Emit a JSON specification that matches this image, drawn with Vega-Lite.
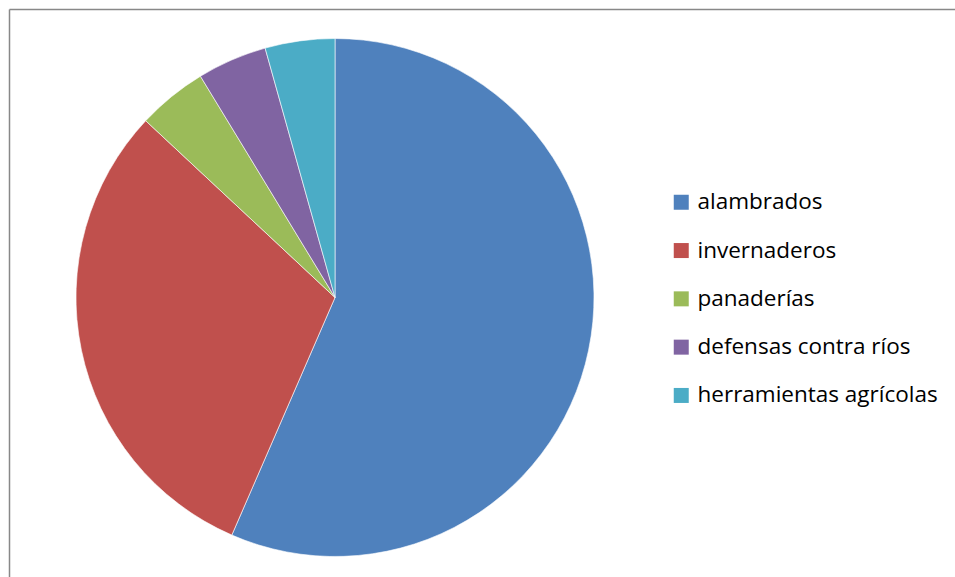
{
  "$schema": "https://vega.github.io/schema/vega-lite/v6.json",
  "autosize": {"type": "none"},
  "width": 652,
  "height": 577,
  "padding": {"left": 9, "top": 9, "right": 294, "bottom": 0},
  "background": "white",
  "config": {"view": {"stroke": null}, "font": "Open Sans"},
  "data": {
    "values": [
      {"categoria": "alambrados", "cantidad": 13, "orden": 1},
      {"categoria": "invernaderos", "cantidad": 7, "orden": 2},
      {"categoria": "panaderías", "cantidad": 1, "orden": 3},
      {"categoria": "defensas contra ríos", "cantidad": 1, "orden": 4},
      {"categoria": "herramientas agrícolas", "cantidad": 1, "orden": 5}
    ]
  },
  "layer": [
    {
      "mark": {"type": "arc", "radius": 259, "stroke": "white", "strokeWidth": 0.6},
      "encoding": {
        "theta": {"field": "cantidad", "type": "quantitative", "stack": true},
        "order": {"field": "orden", "type": "quantitative"},
        "color": {
          "field": "categoria",
          "type": "nominal",
          "scale": {
            "domain": ["alambrados", "invernaderos", "panaderías", "defensas contra ríos", "herramientas agrícolas"],
            "range": ["#4F81BD", "#C0504D", "#9BBB59", "#8064A2", "#4BACC6"]
          },
          "legend": {
            "title": null,
            "orient": "none",
            "legendX": 661,
            "legendY": 182,
            "padding": 0,
            "symbolType": "square",
            "symbolSize": 225,
            "symbolStrokeWidth": 0,
            "labelFontSize": 22.5,
            "labelFont": "Open Sans",
            "labelColor": "#000000",
            "labelOffset": 5,
            "rowPadding": 25.3,
            "labelLimit": 400
          }
        }
      }
    },
    {
      "mark": {"type": "point", "opacity": 0},
      "encoding": {
        "x": {
          "datum": 0,
          "type": "quantitative",
          "scale": {"domain": [0, 1], "range": [0, 946]},
          "axis": {"orient": "top", "domain": true, "domainColor": "#888888", "domainWidth": 1.5, "ticks": false, "labels": false, "grid": false, "title": null}
        },
        "y": {
          "datum": 0,
          "type": "quantitative",
          "scale": {"domain": [0, 1], "range": [0, 600]},
          "axis": {"orient": "left", "domain": true, "domainColor": "#888888", "domainWidth": 1.5, "ticks": false, "labels": false, "grid": false, "title": null}
        }
      }
    }
  ]
}
